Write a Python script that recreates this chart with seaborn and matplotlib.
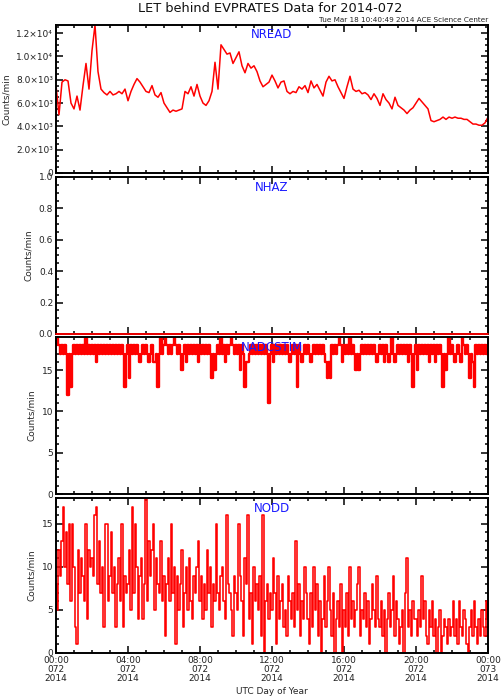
import pandas as pd
import matplotlib
matplotlib.use('Agg')
import matplotlib.pyplot as plt
import seaborn as sns

# text
title = 'LET behind EVPRATES Data for 2014-072'
stamp = 'Tue Mar 18 10:40:49 2014 ACE Science Center'
panel_names = ['NREAD', 'NHAZ', 'NADCSTIM', 'NODD']
ylabel = 'Counts/min'
xlabel = 'UTC Day of Year'

start = pd.Timestamp('2014-03-13 00:00')
end = pd.Timestamp('2014-03-14 00:00')

# NREAD, counts/min every 10 min
nread = [7500, 5000, 7800, 8000, 7900, 6000, 5500, 6600, 5400, 7500, 9400, 7200,
         10500, 12700, 8700, 7200, 6900, 6700, 7000, 6700, 6800, 7000, 6800, 7200,
         6200, 7000, 7600, 8100, 7800, 7400, 7000, 6900, 7500, 6700, 6500, 6900,
         6000, 5600, 5200, 5400, 5300, 5400, 5500, 7000, 6800, 7400, 6600, 7600,
         6600, 6000, 5800, 6200, 7000, 9500, 7200, 11000, 10600, 10200, 10300, 9400,
         9900, 10400, 9200, 8600, 9400, 9000, 9200, 8700, 7900, 7400, 7600, 7800,
         8400, 7900, 7300, 7800, 7900, 7000, 6800, 7000, 6900, 7400, 7200, 7500,
         6900, 7900, 7300, 7600, 7100, 6600, 7800, 8300, 7900, 8000, 7400, 6900,
         6400, 7400, 8300, 7200, 7000, 7100, 6800, 6900, 6700, 6300, 6800, 6400,
         5800, 6800, 6300, 6000, 5500, 6500, 5800, 5600, 5400, 5100, 5400, 5600,
         6000, 6400, 6100, 5800, 5500, 4500, 4400, 4500, 4600, 4800, 4600, 4800,
         4700, 4800, 4700, 4700, 4600, 4600, 4400, 4200, 4200, 4100, 4100, 4300,
         4800]

# NHAZ, flat zero all day
nhaz = [0, 0]

# NADCSTIM, counts/min every 5 min
nadcstim = [18, 19, 18, 17, 18, 17, 18, 17, 12, 17, 13, 17, 18, 17, 18, 17, 18, 17, 18, 17, 19, 17, 18, 17,
            18, 17, 18, 16, 18, 17, 18, 17, 18, 17, 18, 17, 18, 17, 18, 17, 18, 17, 18, 17, 18, 17, 13, 17,
            18, 14, 18, 17, 18, 17, 18, 17, 16, 17, 18, 17, 18, 17, 16, 17, 18, 16, 16, 17, 13, 17, 19, 17,
            18, 19, 18, 17, 18, 17, 18, 19, 18, 17, 18, 17, 15, 17, 18, 16, 18, 17, 18, 17, 18, 17, 18, 16,
            18, 17, 18, 17, 18, 17, 18, 17, 14, 17, 15, 17, 18, 17, 19, 17, 18, 16, 18, 17, 18, 19, 18, 17,
            18, 17, 18, 15, 18, 17, 13, 16, 16, 17, 18, 17, 18, 17, 18, 17, 18, 17, 18, 17, 18, 17, 11, 17,
            18, 16, 18, 17, 18, 17, 18, 17, 18, 17, 18, 17, 16, 17, 18, 17, 18, 13, 18, 17, 16, 17, 18, 17,
            18, 17, 16, 17, 18, 17, 18, 17, 18, 17, 18, 17, 16, 14, 16, 14, 18, 17, 18, 17, 18, 19, 18, 16,
            18, 17, 18, 17, 19, 17, 18, 17, 15, 17, 15, 17, 18, 17, 18, 17, 18, 17, 18, 17, 18, 17, 16, 17,
            18, 17, 18, 16, 18, 17, 16, 17, 19, 17, 16, 17, 18, 17, 18, 17, 18, 17, 18, 16, 18, 17, 13, 17,
            18, 15, 18, 17, 18, 17, 18, 17, 18, 16, 18, 17, 18, 16, 18, 17, 18, 17, 13, 17, 15, 17, 19, 17,
            18, 17, 16, 17, 18, 17, 16, 19, 18, 17, 18, 17, 14, 17, 16, 13, 18, 17, 18, 17, 18, 17, 18, 17,
            18]

# NODD, counts/min every 5 min
nodd = [8, 5, 12, 9, 13, 17, 10, 14, 8, 15, 6, 15, 10, 3, 1, 12, 7, 11, 9, 6, 15, 4, 12, 10,
        11, 9, 16, 17, 8, 13, 7, 10, 3, 15, 15, 6, 9, 14, 7, 10, 3, 8, 11, 6, 15, 3, 9, 7,
        8, 12, 5, 17, 7, 15, 10, 4, 9, 11, 4, 8, 18, 6, 13, 9, 12, 15, 5, 11, 8, 7, 13, 6,
        9, 2, 8, 11, 6, 15, 7, 10, 1, 9, 5, 8, 12, 3, 7, 10, 5, 11, 6, 4, 9, 7, 10, 13,
        6, 9, 4, 8, 5, 12, 7, 10, 3, 8, 6, 15, 7, 5, 9, 10, 6, 4, 16, 8, 7, 5, 2, 9,
        7, 5, 15, 9, 6, 2, 11, 8, 16, 4, 7, 1, 10, 6, 8, 5, 9, 2, 16, 0, 6, 8, 4, 7,
        5, 11, 7, 1, 9, 4, 6, 8, 3, 5, 2, 9, 6, 4, 7, 3, 13, 5, 8, 2, 6, 4, 10, 7,
        4, 1, 7, 3, 10, 5, 8, 2, 6, 0, 4, 9, 3, 6, 10, 5, 2, 7, 0, 4, 6, 3, 8, 0,
        5, 3, 7, 2, 10, 4, 6, 3, 5, 8, 10, 2, 5, 4, 7, 3, 6, 1, 4, 8, 5, 3, 9, 4,
        3, 6, 2, 5, 0, 4, 7, 3, 5, 9, 2, 6, 4, 1, 3, 5, 0, 7, 11, 3, 5, 2, 6, 4,
        4, 2, 5, 3, 9, 4, 6, 2, 1, 5, 3, 6, 2, 4, 0, 3, 5, 0, 2, 4, 3, 1, 4, 2,
        3, 6, 2, 4, 1, 6, 3, 2, 5, 4, 1, 0, 3, 5, 2, 6, 3, 1, 4, 2, 5, 3, 2, 6,
        4]

# axis ticks
nread_ticks = [0, 2000, 4000, 6000, 8000, 10000, 12000]
nread_ticklabels = ['0', '2.0×10³', '4.0×10³', '6.0×10³', '8.0×10³', '1.0×10⁴', '1.2×10⁴']
nhaz_ticks = [0.0, 0.2, 0.4, 0.6, 0.8, 1.0]
nhaz_ticklabels = ['0.0', '0.2', '0.4', '0.6', '0.8', '1.0']
count_ticks = [0, 5, 10, 15]
count_ticklabels = ['0', '5', '10', '15']
xtick_labels = ['00:00\n072\n2014', '04:00\n072\n2014', '08:00\n072\n2014', '12:00\n072\n2014',
                '16:00\n072\n2014', '20:00\n072\n2014', '00:00\n073\n2014']

times10 = pd.date_range(start, end, freq='10min')
times5 = pd.date_range(start, end, freq='5min')
xticks = pd.date_range(start, end, freq='4h')
xminor = pd.date_range(start, end, freq='1h')

sns.set_style('ticks')
plt.rcParams['font.family'] = ['DejaVu Sans']
plt.rcParams['path.simplify'] = False

fig = plt.figure(figsize=(5.01, 7.0), dpi=100)

left, width = 56 / 501, 432 / 501
boxes = [(25, 173), (177, 334), (337, 494), (498, 653)]
axes = [fig.add_axes([left, 1 - b / 700, width, (b - t) / 700]) for t, b in boxes]

sns.lineplot(x=times10, y=nread, ax=axes[0], color='red', linewidth=1.1, estimator=None)
sns.lineplot(x=[start, end], y=nhaz, ax=axes[1], color='red', linewidth=1.3, estimator=None)
axes[1].lines[-1].set_clip_on(False)
axes[1].lines[-1].set_zorder(5)
# dense 17/18 alternation renders as the solid band
sns.lineplot(x=times5, y=nadcstim, ax=axes[2], color='red', linewidth=1.7,
             estimator=None, drawstyle='steps-mid')
sns.lineplot(x=times5, y=nodd, ax=axes[3], color='red', linewidth=1.15,
             estimator=None, drawstyle='steps-mid')

ylims = [(0, 12700), (0, 1), (0, 19), (0, 18)]
yticks = [(nread_ticks, nread_ticklabels), (nhaz_ticks, nhaz_ticklabels),
          (count_ticks, count_ticklabels), (count_ticks, count_ticklabels)]
yminor = [500, 0.05, 1, 1]

for i, ax in enumerate(axes):
    ax.set_xlim(start, end)
    ax.set_ylim(*ylims[i])
    ax.set_yticks(yticks[i][0], yticks[i][1])
    lo, hi = ylims[i]
    step = yminor[i]
    ax.set_yticks([lo + k * step for k in range(int(round((hi - lo) / step)) + 1)], minor=True)
    ax.set_xticks(xticks)
    ax.set_xticks(xminor, minor=True)
    if i == 3:
        ax.set_xticklabels(xtick_labels, linespacing=1.0)
        ax.set_xlabel(xlabel, fontsize=6.5, labelpad=3)
    else:
        ax.set_xticklabels([])
    ax.set_ylabel(ylabel, fontsize=6.5, labelpad=4)
    ax.tick_params(which='both', direction='in', top=True, right=True, width=1.1,
                   labelsize=6.5, pad=2, color='black', labelcolor='#222222')
    ax.tick_params(which='major', length=5)
    ax.tick_params(which='minor', length=2.5)
    for s in ax.spines.values():
        s.set_linewidth(1.4)
        s.set_color('black')
    ax.grid(False)
    ax.text(0.5, 0.935, panel_names[i], transform=ax.transAxes, ha='center', va='center',
            color='#1a1aff', fontsize=8.5, zorder=6)

fig.text(0.54, 1 - 8 / 700, title, ha='center', va='center', fontsize=9.3, color='#111111')
fig.text(488 / 501, 1 - 20 / 700, stamp, ha='right', va='center', fontsize=5.2, color='#222222')

fig.savefig('out.png', dpi=100)
